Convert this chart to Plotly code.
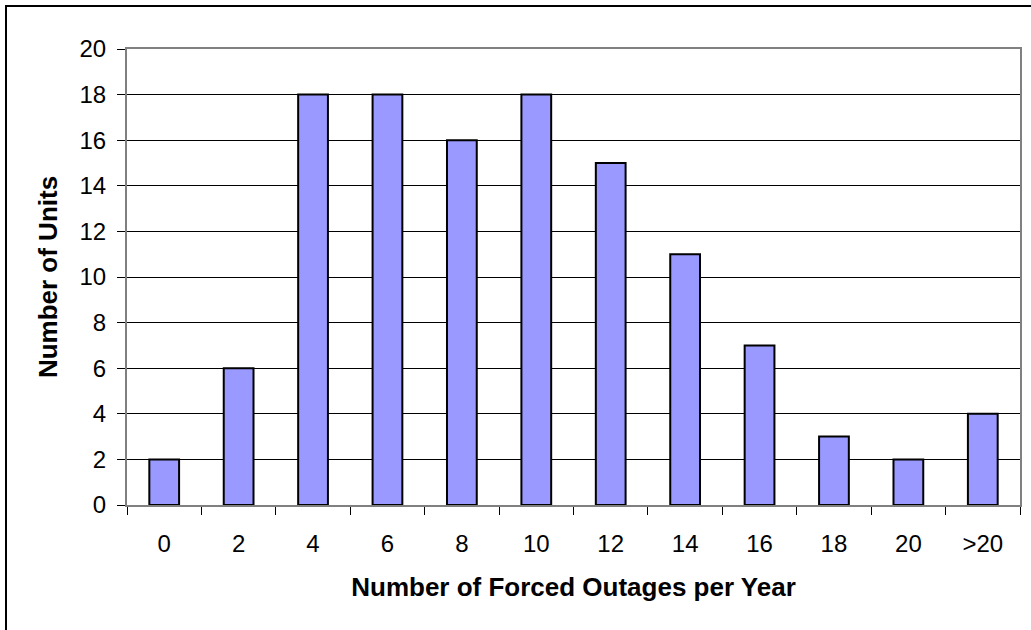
import plotly.graph_objects as go

categories = ["0", "2", "4", "6", "8", "10", "12", "14", "16", "18", "20", ">20"]
units = [2, 6, 18, 18, 16, 18, 15, 11, 7, 3, 2, 4]
y_ticks = list(range(0, 21, 2))

W, H = 1031, 630
L, R, T, B = 127, 11, 49, 125
pw, ph = W - L - R, H - T - B

fig = go.Figure(go.Bar(
    x=categories,
    y=units,
    marker=dict(color="#9999FF", line=dict(color="black", width=2)),
    hovertemplate="%{x}<br>%{y}<extra></extra>",
))

tick_font = dict(family="Liberation Sans, Arial, sans-serif", size=24, color="black")
title_font = dict(family="Liberation Sans, Arial, sans-serif", size=26, color="black")

fig.update_layout(
    template="none",
    width=W,
    height=H,
    margin=dict(l=L, r=R, t=T, b=B, autoexpand=False),
    paper_bgcolor="white",
    plot_bgcolor="white",
    bargap=0.6,
    showlegend=False,
    font=tick_font,
    xaxis=dict(
        type="category",
        automargin=False,
        tickson="boundaries",
        ticks="outside",
        ticklen=8,
        tickcolor="black",
        tickfont=tick_font,
        ticklabelstandoff=16,
        showline=True,
        linecolor="#808080",
        linewidth=2,
        mirror=True,
        showgrid=False,
        title=dict(text="<b>Number of Forced Outages per Year</b>", font=title_font, standoff=22),
    ),
    yaxis=dict(
        range=[0, 20],
        automargin=False,
        tickvals=y_ticks,
        ticks="outside",
        ticklen=8,
        tickcolor="black",
        tickfont=tick_font,
        ticklabelstandoff=6,
        showline=True,
        linecolor="#808080",
        linewidth=2,
        mirror=True,
        showgrid=True,
        gridcolor="black",
        gridwidth=1,
        zeroline=False,
        title=dict(text="<b>Number of Units</b>", font=title_font, standoff=14),
    ),
)

# outer chart border (extends past right/bottom edges)
fig.add_shape(
    type="rect", xref="paper", yref="paper", layer="below",
    x0=(6 - L) / pw, x1=(W + 10 - L) / pw,
    y0=(H - B - (H + 10)) / ph, y1=(H - B - 6) / ph,
    line=dict(color="black", width=2),
)

# page body has a default 8px margin; drop it so the figure fills the window
fig.write_html(
    "out.html",
    config={"displayModeBar": False},
    post_script="document.body.style.margin='0';",
)
